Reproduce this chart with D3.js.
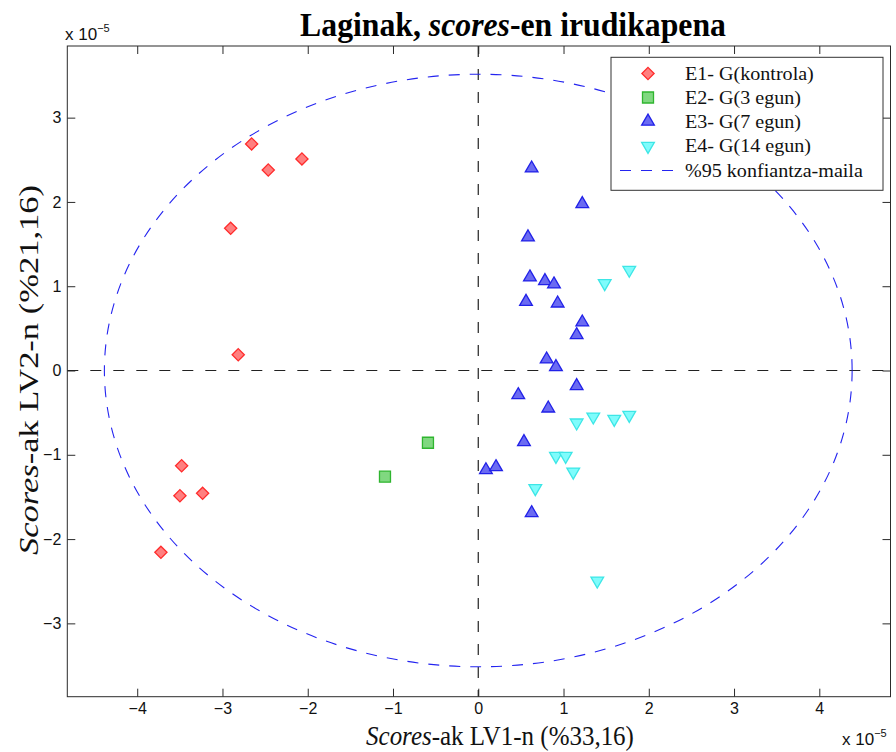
<!DOCTYPE html>
<html><head><meta charset="utf-8">
<script src="https://cdn.jsdelivr.net/npm/d3@7"></script>
<style>body{margin:0;background:#fff}svg{display:block}</style>
</head><body><svg id="c" width="896" height="752"></svg>
<script>
// ---- data (x 10^-5) ----
const seriesNames = ["E1- G(kontrola)", "E2- G(3 egun)", "E3- G(7 egun)", "E4- G(14 egun)"];
const ellipseLabel = "%95 konfiantza-maila";
const e1x = [-2.658, -2.463, -2.068, -2.904, -2.815, -3.479, -3.499, -3.233, -3.722];
const e1y = [2.688, 2.379, 2.510, 1.687, 0.187, -1.130, -1.486, -1.457, -2.157];
const e2x = [-0.590, -1.094];
const e2y = [-0.857, -1.260];
const e3x = [0.626, 1.220, 0.583, 0.606, 0.782, 0.888, 0.560, 0.931, 1.220, 1.154, 0.802, 0.911, 1.154, 0.469, 0.821, 0.536, 0.090, 0.208, 0.626];
const e3y = [2.399, 1.976, 1.581, 1.106, 1.062, 1.023, 0.816, 0.797, 0.572, 0.421, 0.133, 0.042, -0.184, -0.291, -0.449, -0.848, -1.181, -1.145, -1.691];
const e4x = [1.771, 1.483, 1.154, 1.349, 1.595, 1.771, 0.911, 1.025, 1.114, 0.669, 1.396];
const e4y = [1.193, 1.035, -0.619, -0.548, -0.576, -0.528, -1.015, -1.015, -1.201, -1.398, -2.494];
const ellipseRx = 4.385, ellipseRy = 3.515;
const xTicks = [-4, -3, -2, -1, 0, 1, 2, 3, 4];
const yTicks = [-3, -2, -1, 0, 1, 2, 3];
const xDomain = [-4.82, 4.835], yDomain = [-3.87, 3.85];

const svg = d3.select("#c");
const L = 67.3, R = 890.5, T = 46, B = 696.7;
const x = d3.scaleLinear().domain(xDomain).range([L, R]);
const y = d3.scaleLinear().domain(yDomain).range([B, T]);
const axisColor = "#2b2b2b";
const sans = "'Liberation Sans', Arial, Helvetica, sans-serif";
const serif = "'Liberation Serif', 'Times New Roman', serif";

function fitText(t, cx, cy, targetW, anchor) {
  const bb = t.node().getBBox();
  const s = targetW / bb.width;
  t.attr("text-anchor", anchor || "middle").attr("x", 0).attr("y", 0)
   .attr("transform", `translate(${cx},${cy}) scale(${s},1)`);
}

svg.append("rect").attr("x", L).attr("y", T).attr("width", R - L).attr("height", B - T).attr("fill", "#fff");

function styleAxis(g) {
  g.select(".domain").remove();
  g.selectAll(".tick line").attr("stroke", axisColor).attr("stroke-width", 1);
  g.selectAll(".tick text").attr("fill", "#111").style("font-family", sans).style("font-size", "16px");
}
svg.append("g").attr("transform", `translate(0,${B})`)
  .call(d3.axisBottom(x).tickValues(xTicks).tickSizeInner(-8).tickSizeOuter(0).tickPadding(6).tickFormat(d3.format("")))
  .call(styleAxis);
svg.append("g").attr("transform", `translate(0,${T})`)
  .call(d3.axisTop(x).tickValues(xTicks).tickSizeInner(-8).tickSizeOuter(0).tickFormat(""))
  .call(styleAxis);
svg.append("g").attr("transform", `translate(${L},0)`)
  .call(d3.axisLeft(y).tickValues(yTicks).tickSizeInner(-8).tickSizeOuter(0).tickPadding(6).tickFormat(d3.format("")))
  .call(styleAxis);
svg.append("g").attr("transform", `translate(${R},0)`)
  .call(d3.axisRight(y).tickValues(yTicks).tickSizeInner(-8).tickSizeOuter(0).tickFormat(""))
  .call(styleAxis);

svg.append("line").attr("x1", x(0)).attr("x2", x(0)).attr("y1", T).attr("y2", B)
  .attr("stroke", "#222").attr("stroke-width", 1.2).attr("stroke-dasharray", "11,12");
svg.append("line").attr("x1", L).attr("x2", R).attr("y1", y(0)).attr("y2", y(0))
  .attr("stroke", "#222").attr("stroke-width", 1.2).attr("stroke-dasharray", "11,12");

const ellipseColor = "#2424f0";
svg.append("ellipse").attr("cx", x(0)).attr("cy", y(0))
  .attr("rx", x(ellipseRx) - x(0)).attr("ry", y(0) - y(ellipseRy))
  .attr("fill", "none").attr("stroke", ellipseColor).attr("stroke-width", 1.1).attr("stroke-dasharray", "11,10");

const styles = [
  { type: d3.symbolDiamond2, size: 95, fill: "#ff8080", stroke: "#ff2b2b", rot: 0 },
  { type: d3.symbolSquare, size: 121, fill: "#80d880", stroke: "#2fb52f", rot: 0 },
  { type: d3.symbolTriangle, size: 70, fill: "#6b6bf2", stroke: "#2121e8", rot: 0 },
  { type: d3.symbolTriangle, size: 70, fill: "#7ffcfc", stroke: "#3de6e6", rot: 180 },
];
const seriesData = [[e1x, e1y], [e2x, e2y], [e3x, e3y], [e4x, e4y]];
seriesData.forEach(([xs, ys], i) => {
  const st = styles[i];
  const sym = d3.symbol().type(st.type).size(st.size);
  svg.append("g").selectAll("path").data(xs.map((v, j) => [v, ys[j]])).join("path")
    .attr("d", sym)
    .attr("transform", d => `translate(${x(d[0])},${y(d[1])}) rotate(${st.rot})`)
    .attr("fill", st.fill).attr("stroke", st.stroke).attr("stroke-width", 1.3);
});

svg.append("rect").attr("x", L).attr("y", T).attr("width", R - L).attr("height", B - T)
  .attr("fill", "none").attr("stroke", axisColor).attr("stroke-width", 1);

const lg = svg.append("g");
lg.append("rect").attr("x", 611).attr("y", 57.3).attr("width", 272).attr("height", 133)
  .attr("fill", "#fff").attr("stroke", "#333").attr("stroke-width", 1);
const rowsY = [73.5, 97.5, 121.5, 146, 170.5];
seriesNames.forEach((n, i) => {
  const st = styles[i];
  lg.append("path").attr("d", d3.symbol().type(st.type).size(st.size))
    .attr("transform", `translate(648,${rowsY[i]}) rotate(${st.rot})`)
    .attr("fill", st.fill).attr("stroke", st.stroke).attr("stroke-width", 1.3);
});
lg.append("line").attr("x1", 620).attr("x2", 675).attr("y1", rowsY[4]).attr("y2", rowsY[4])
  .attr("stroke", ellipseColor).attr("stroke-width", 1.1).attr("stroke-dasharray", "11,10");
const legTexts = seriesNames.concat([ellipseLabel]);
const legNodes = legTexts.map((n, i) => lg.append("text").text(n)
  .style("font-family", serif).style("font-size", "18px").attr("fill", "#111"));
const refW = legNodes[4].node().getBBox().width;
const legScale = 178 / refW;
legNodes.forEach((t, i) => {
  const w = t.node().getBBox().width;
  fitText(t, 685, rowsY[i] + 6, w * legScale, "start");
});

const title = svg.append("text").style("font-family", serif).style("font-size", "34px")
  .style("font-weight", "bold").attr("fill", "#000");
title.append("tspan").text("Laginak, ");
title.append("tspan").style("font-style", "italic").text("scores");
title.append("tspan").text("-en irudikapena");
fitText(title, 513, 36, 426, "middle");

const xl = svg.append("text").style("font-family", serif).style("font-size", "28px").attr("fill", "#111");
xl.append("tspan").style("font-style", "italic").text("Scores");
xl.append("tspan").text("-ak LV1-n (%33,16)");
fitText(xl, 500, 745, 268, "middle");

const ylab = svg.append("text").style("font-family", serif).style("font-size", "28px").attr("fill", "#111");
ylab.append("tspan").style("font-style", "italic").text("Scores");
ylab.append("tspan").text("-ak LV2-n (%21,16)");
{
  const bb = ylab.node().getBBox();
  const s = 370 / bb.width;
  ylab.attr("text-anchor", "middle").attr("transform", `translate(38,370) rotate(-90) scale(${s},1)`);
}

function expLabel(xp, yp) {
  const t = svg.append("text").attr("x", xp).attr("y", yp).style("font-family", sans)
    .style("font-size", "17px").attr("fill", "#111");
  t.append("tspan").text("x 10");
  t.append("tspan").attr("dy", -8).style("font-size", "11px").text("\u22125");
}
expLabel(65, 40);
expLabel(842, 745);
</script></body></html>
